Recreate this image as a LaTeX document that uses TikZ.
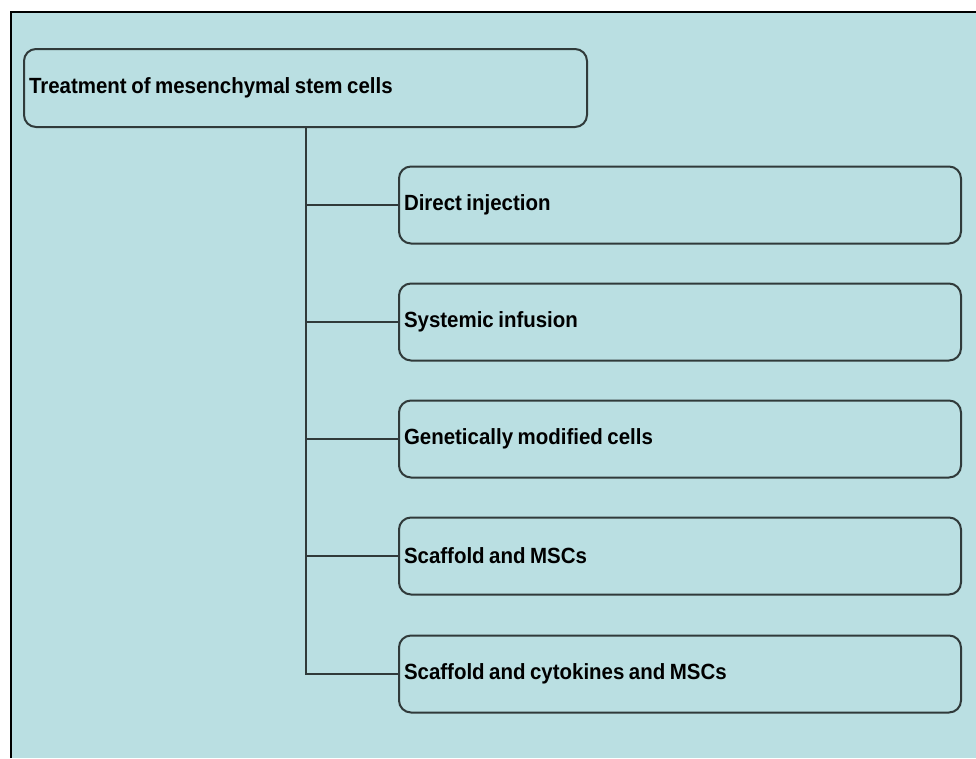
\documentclass[tikz,border=0pt]{standalone}
\usepackage{fontspec}
\setmainfont{Liberation Sans}[FakeStretch=0.93]
\definecolor{bgc}{RGB}{186,223,226}
\definecolor{linec}{RGB}{48,58,58}
\newcommand\mybxfont{\fontsize{22}{26}\selectfont\bfseries}
\newcommand\mytightsp{\spaceskip=4.5pt\relax\xspaceskip=4.5pt\relax}
\begin{document}
\begin{tikzpicture}[x=1pt,y=-1pt,
  box/.style={draw=linec, line width=2pt, rounded corners=12pt, rectangle,
    minimum height=77pt, inner xsep=5pt, inner ysep=0pt,
    font=\mybxfont, execute at begin node=\mytightsp, anchor=west},
  conn/.style={draw=linec, line width=2pt}]
\useasboundingbox (0,0) rectangle (976,758);
\fill[white] (0,0) rectangle (976,758);
\fill[bgc] (11,12) rectangle (976,758);
\draw[black, line width=2pt] (11,758) -- (11,12) -- (976,12);
\node[box, text width=553pt, minimum height=78pt] (top) at (23,88) {Treatment of mesenchymal stem cells};
\node[box, text width=552pt] (c1) at (398,205) {Direct injection};
\node[box, text width=552pt] (c2) at (398,322) {Systemic infusion};
\node[box, text width=552pt] (c3) at (398,439) {Genetically modified cells};
\node[box, text width=552pt] (c4) at (398,556) {Scaffold and MSCs};
\node[box, text width=552pt] (c5) at (398,674) {Scaffold and cytokines and MSCs};
\foreach \c in {c1,c2,c3,c4,c5}
  \draw[conn] (top.south) |- (\c.west);
\end{tikzpicture}
\end{document}
